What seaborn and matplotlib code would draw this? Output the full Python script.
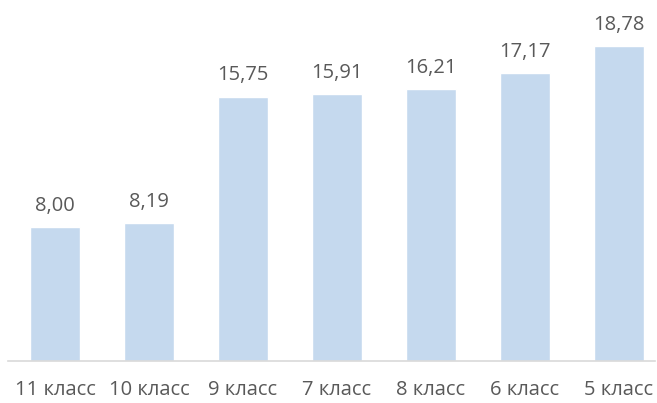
import matplotlib
matplotlib.use("Agg")
import matplotlib.pyplot as plt
import seaborn as sns
import pandas as pd

# данные с графика
classes = ['11 класс', '10 класс', '9 класс', '7 класс', '8 класс', '6 класс', '5 класс']
values = [8.00, 8.19, 15.75, 15.91, 16.21, 17.17, 18.78]

df = pd.DataFrame({'class': classes, 'value': values})

sns.set_style("white")
plt.rcParams['font.family'] = ['Open Sans', 'DejaVu Sans']

fig = plt.figure(figsize=(6.57, 4.03), dpi=100)
ax = fig.add_axes([8 / 657, 42 / 403, 647 / 657, 361 / 403])

sns.barplot(data=df, x='class', y='value', color='#C5D9EE', saturation=1,
            width=0.54, ax=ax)

ax.set_ylim(0, 21.5)
# шаг столбцов ~94 px, ось обрезана справа
ax.set_xlim(-0.5, -0.5 + 647 / 94)
ax.set_xlabel('')
ax.set_ylabel('')
ax.set_yticks([])
for s in ['top', 'left', 'right']:
    ax.spines[s].set_visible(False)
ax.spines['bottom'].set_color('#D9D9D9')
ax.spines['bottom'].set_linewidth(1.2)
ax.tick_params(axis='x', length=0, pad=14, labelsize=14.5, labelcolor='#595959')

for i, v in enumerate(values):
    ax.annotate(f"{v:.2f}".replace('.', ','), (i, v), xytext=(0, 8),
                textcoords='offset points', ha='center', va='bottom',
                fontsize=14.5, color='#595959')

fig.savefig('out.png', dpi=100)
